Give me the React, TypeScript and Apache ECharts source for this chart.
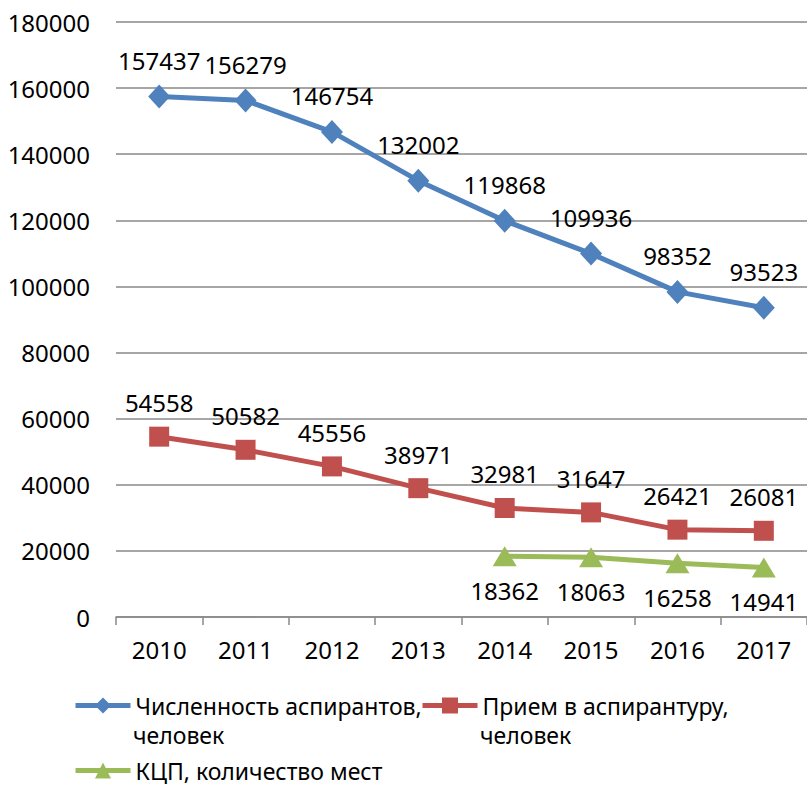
import React, { useEffect, useRef } from "react";
import * as echarts from "echarts";

const years = ["2010", "2011", "2012", "2013", "2014", "2015", "2016", "2017"];
const students = [157437, 156279, 146754, 132002, 119868, 109936, 98352, 93523];
const admissions = [54558, 50582, 45556, 38971, 32981, 31647, 26421, 26081];
const places = [null, null, null, null, 18362, 18063, 16258, 14941];

const nameStudents = "Численность аспирантов, человек";
const nameAdmissions = "Прием в аспирантуру, человек";
const namePlaces = "КЦП, количество мест";

const FONT = "Noto Sans";

export default function App() {
  const ref = useRef<HTMLDivElement>(null);
  useEffect(() => {
    const chart = echarts.init(ref.current!, null, { renderer: "svg" });
    const labelStyle = { color: "#000", fontSize: 24, fontFamily: FONT };
    const legendBase = {
      itemWidth: 55,
      itemHeight: 20,
      itemGap: 3,
      padding: 0,
      lineStyle: { width: 5 },
      textStyle: { color: "#000", fontSize: 23, fontFamily: FONT, lineHeight: 22 },
    };
    chart.setOption({
      animation: false,
      textStyle: { fontFamily: FONT },
      grid: { left: 116, right: 0, top: 22, bottom: 169, containLabel: false },
      xAxis: {
        type: "category",
        data: years,
        boundaryGap: true,
        axisLine: { lineStyle: { color: "#888", width: 1.5 } },
        axisTick: { show: true, length: 8, lineStyle: { color: "#888", width: 1.5 } },
        axisLabel: { color: "#000", fontSize: 24, fontFamily: FONT, margin: 20 },
      },
      yAxis: {
        type: "value",
        min: 0,
        max: 180000,
        interval: 20000,
        axisLine: { show: false },
        axisTick: { show: false },
        axisLabel: {
          color: "#000",
          fontSize: 24,
          fontFamily: FONT,
          margin: 26,
          formatter: (v: number) => String(v),
        },
        splitLine: { lineStyle: { color: "#888", width: 1.5 } },
      },
      legend: [
        { ...legendBase, data: [nameStudents], left: 73, top: 694, formatter: () => "Численность аспирантов," },
        { ...legendBase, data: [nameAdmissions], left: 420, top: 694, formatter: () => "Прием в аспирантуру," },
        { ...legendBase, data: [namePlaces], left: 73, top: 759, formatter: () => "КЦП, количество мест" },
      ],
      graphic: [
        { type: "text", left: 133, top: 723, style: { text: "человек", fill: "#000", fontSize: 23, fontFamily: FONT, lineHeight: 22 } },
        { type: "text", left: 480, top: 723, style: { text: "человек", fill: "#000", fontSize: 23, fontFamily: FONT, lineHeight: 22 } },
      ],
      series: [
        {
          name: nameStudents,
          type: "line",
          data: students,
          symbol: "diamond",
          symbolSize: [22, 24],
          itemStyle: { color: "#4F81BD" },
          lineStyle: { color: "#4F81BD", width: 5 },
          label: { show: true, position: "top", distance: 12, ...labelStyle },
        },
        {
          name: nameAdmissions,
          type: "line",
          data: admissions,
          symbol: "rect",
          symbolSize: 20,
          itemStyle: { color: "#C0504D" },
          lineStyle: { color: "#C0504D", width: 5 },
          label: { show: true, position: "top", distance: 12, ...labelStyle },
        },
        {
          name: namePlaces,
          type: "line",
          data: places,
          symbol: "triangle",
          symbolSize: [24, 20],
          itemStyle: { color: "#9BBB59" },
          lineStyle: { color: "#9BBB59", width: 5 },
          label: { show: true, position: "bottom", distance: 12, ...labelStyle },
        },
      ],
    });
    return () => chart.dispose();
  }, []);
  return (
    <div
      ref={ref}
      style={{ position: "absolute", left: 0, top: 0, width: 807, height: 786, background: "#fff" }}
    />
  );
}
